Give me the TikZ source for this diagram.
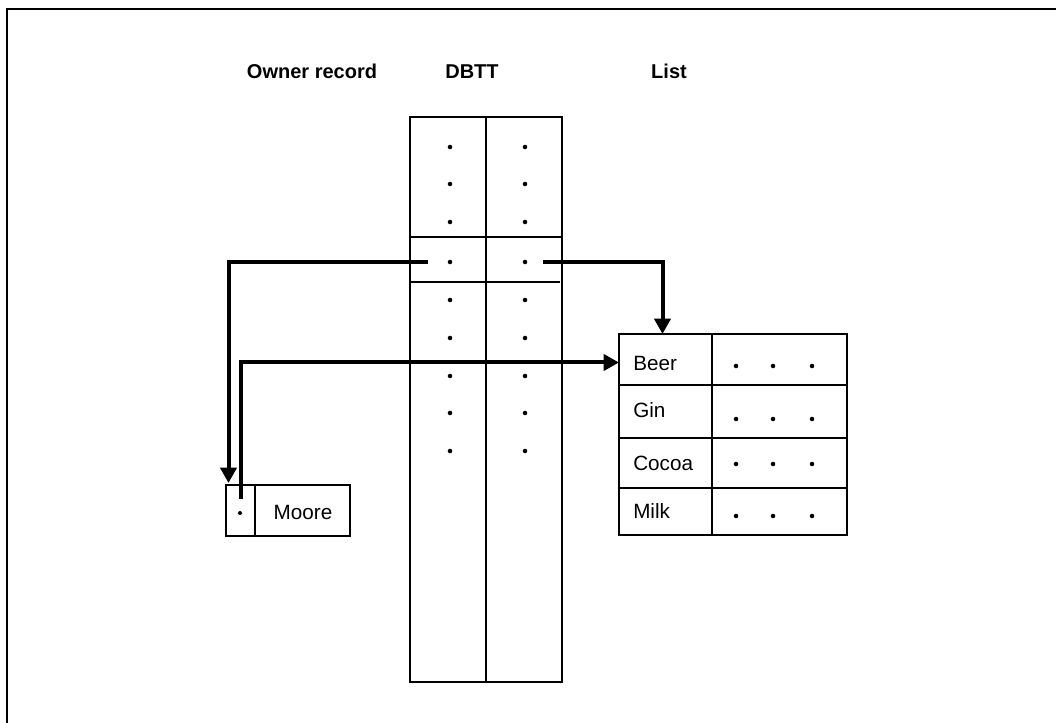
\documentclass[tikz,border=0pt]{standalone}
\usepackage{fontspec}
\setmainfont{Liberation Sans}
\usetikzlibrary{arrows.meta,calc}
\begin{document}
\begin{tikzpicture}[x=0.75pt,y=-0.75pt,
  frameline/.style={line width=0.8pt},
  boxline/.style={draw,line width=1.7pt},
  cell/.style={draw,line width=1.7pt,inner sep=0pt,outer sep=0pt},
  pdot/.style={circle,fill=black,inner sep=0pt,minimum size=3.4pt},
  lbl/.style={inner sep=0pt,font=\fontsize{15.5}{18}\selectfont},
  ttl/.style={inner sep=0pt,anchor=base,font=\fontsize{15}{18}\selectfont\bfseries},
  arr/.style={line width=3pt,-{Triangle[width=12pt,length=11.5pt]}}]
\useasboundingbox (0,0) rectangle (1056,723);
% frame
\draw[frameline] (7,723) -- (7,9) -- (1056,9);
% titles
\node[ttl] (towner) at (312,78.5) {Owner record};
\node[ttl] (tdbtt) at (472,78.5) {DBTT};
\node[ttl] (tlist) at (669,78.5) {List};
% DBTT table
\node[cell,minimum width=114pt,minimum height=423.75pt] (dbtt) at (486,399.5) {};
\draw[boxline] (486,117) -- (486,682);
\draw[boxline] (410,237) -- (562,237);
\draw[boxline] (410,282) -- (560,282);
\foreach \y [count=\i] in {147,184,222,262,300,338,376,413,451}{
  \node[pdot] (dl\i) at (450,\y) {};
  \node[pdot] (dr\i) at (525,\y) {};
}
% Owner record
\node[cell,minimum width=21.75pt,minimum height=38.25pt] (mptr) at (240.5,510.5) {};
\node[cell,minimum width=71.25pt,minimum height=38.25pt] (mname) at (302.5,510.5) {};
\node[pdot,minimum size=3pt] (mdot) at (240,513) {};
\node[lbl] (tmoore) at (303,512) {Moore};
% List
\node[cell,minimum width=69.75pt,minimum height=38.25pt] (beer) at (665.5,359.5) {};
\node[cell,minimum width=69.75pt,minimum height=39.75pt] (gin) at (665.5,411.5) {};
\node[cell,minimum width=69.75pt,minimum height=37.5pt] (cocoa) at (665.5,463) {};
\node[cell,minimum width=69.75pt,minimum height=35.25pt] (milk) at (665.5,511.5) {};
\node[cell,minimum width=101.25pt,minimum height=38.25pt] (beerv) at (779.5,359.5) {};
\node[cell,minimum width=101.25pt,minimum height=39.75pt] (ginv) at (779.5,411.5) {};
\node[cell,minimum width=101.25pt,minimum height=37.5pt] (cocoav) at (779.5,463) {};
\node[cell,minimum width=101.25pt,minimum height=35.25pt] (milkv) at (779.5,511.5) {};
\node[lbl,anchor=west] (tbeer) at (633,363) {Beer};
\node[lbl,anchor=west] (tgin) at (633,410) {Gin};
\node[lbl,anchor=west] (tcocoa) at (633,463) {Cocoa};
\node[lbl,anchor=west] (tmilk) at (633,511) {Milk};
\foreach \y/\n in {366/b,419/g,464/c,516/m}{
  \node[pdot] (l\n1) at (736,\y) {};
  \node[pdot] (l\n2) at (773,\y) {};
  \node[pdot] (l\n3) at (812,\y) {};
}
% connectors
\coordinate (lstart) at ($(dl4)+(-22,0)$);
\coordinate (rstart) at ($(dr4)+(18,0)$);
\coordinate (mstart) at ($(mdot)+(1,-14)$);
\draw[arr] (lstart) -| ($(mptr.north west)+(2.5,-2)$);
\draw[arr] (rstart) -| ($(beer.north)+(-3,0)$);
\draw[arr] (mstart) |- ($(beer.west)+(0,3)$);
\end{tikzpicture}
\end{document}
